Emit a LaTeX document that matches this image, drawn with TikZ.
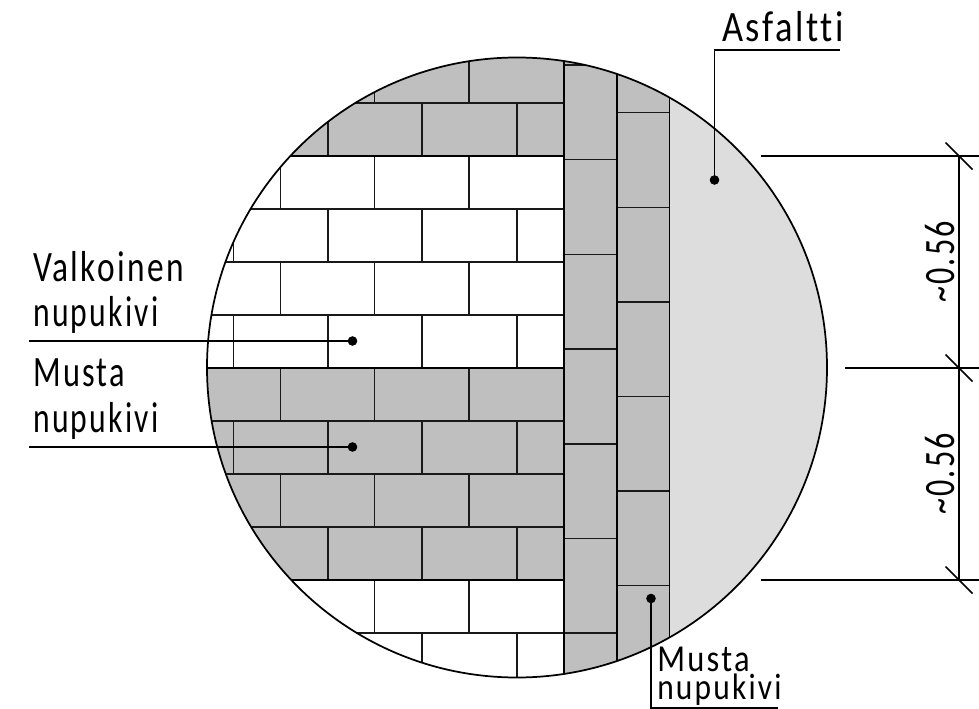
\documentclass[tikz,border=0pt]{standalone}
\usepackage{fontspec}
\usepackage{graphicx}
\setmainfont{Carlito}
\newfontface\lblfont[LetterSpace=7,Ligatures=NoCommon]{Carlito}
\newcommand{\lbltxt}[3]{\scalebox{#1}[#2]{\fontsize{32.5pt}{36pt}\lblfont #3}}
\definecolor{stonegrey}{HTML}{BFBFBF}
\definecolor{asphalt}{HTML}{DDDDDD}
\tikzset{
  x=0.75pt,y=-0.75pt,
  joint/.style={line width=1.05pt,black!90},
  edge/.style={line width=1.3pt,black},
  leader/.style={line width=1.2pt,black},
  dim/.style={line width=1.2pt,black},
  lbl/.style={anchor=base west,inner sep=0pt,black},
  dimlbl/.style={anchor=base,inner sep=0pt,rotate=90,black},
  leaderdot/.style={circle,fill=black,inner sep=0pt,minimum size=7.2pt}
}
\begin{document}
\begin{tikzpicture}
\useasboundingbox (0,0) rectangle (979,709);
\coordinate (c) at (517,367.5);
\begin{scope}
  \clip (c) circle [radius=310];
  % surfaces
  \fill[white] (200,50) rectangle (564,690);
  \fill[stonegrey] (200,50) rectangle (564,156);
  \fill[stonegrey] (200,368) rectangle (564,580);
  \fill[stonegrey] (564,50) rectangle (669.5,690);
  \fill[asphalt] (669.5,50) rectangle (830,690);
  % courses of stones
  \foreach \yy in {103,156,209,262,315,368,421,474,527,580,633}
    \draw[joint] (200,\yy) -- (564,\yy);
  \foreach \yy/\yb in {50/103,156/209,262/315,368/421,474/527,580/633}
    \foreach \xx in {280.5,374.5,469}
      \draw[joint] (\xx,\yy) -- (\xx,\yb);
  \foreach \yy/\yb in {103/156,209/262,315/368,421/474,527/580,633/690}
    \foreach \xx in {328,422,517}
      \draw[joint] (\xx,\yy) -- (\xx,\yb);
  \foreach \yy/\yb in {209/262,315/368,421/474}
    \draw[joint] (233.5,\yy) -- (233.5,\yb);
  % course boundaries of the colour bands
  \foreach \yy in {156,368,580}
    \draw[edge] (200,\yy) -- (564,\yy);
  % edge courses
  \foreach \yy in {65,159.5,254.5,349,444,538.5,633}
    \draw[joint] (564,\yy) -- (617,\yy);
  \foreach \yy in {112.7,207.3,302,396.5,491,585.7}
    \draw[joint] (617,\yy) -- (669.5,\yy);
  \foreach \xx in {564,617,669.5}
    \draw[edge] (\xx,50) -- (\xx,690);
\end{scope}
\draw[edge] (c) circle [radius=310];
% leaders
\node[leaderdot] (dotAsf) at (714.5,180) {};
\coordinate (kneeAsf) at (714.5,50);
\coordinate (endAsf) at (840,50);
\draw[leader] (dotAsf.center) -- (kneeAsf) -- (endAsf);
\node[lbl] (tAsf) at (722,42) {\lbltxt{.84}{1}{Asfaltti}};

\node[leaderdot] (dotW) at (352.5,341) {};
\coordinate (endW) at (29,341);
\draw[leader] (dotW.center) -- (endW);
\node[lbl] (tW1) at (33,282) {\lbltxt{.77}{1}{Valkoinen}};
\node[lbl] (tW2) at (33,327) {\lbltxt{.73}{1}{nupukivi}};

\node[leaderdot] (dotB) at (352.5,447) {};
\coordinate (endB) at (29,447);
\draw[leader] (dotB.center) -- (endB);
\node[lbl] (tB1) at (33,387) {\lbltxt{.745}{1}{Musta}};
\node[lbl] (tB2) at (33,432) {\lbltxt{.73}{1}{nupukivi}};

\node[leaderdot] (dotE) at (651,598.5) {};
\coordinate (kneeE) at (651,708);
\coordinate (endE) at (778,708);
\draw[leader] (dotE.center) -- (kneeE) -- (endE);
\node[lbl] (tE1) at (657,671.5) {\lbltxt{.75}{.88}{Musta}};
\node[lbl] (tE2) at (657,699) {\lbltxt{.725}{.85}{nupukivi}};

% dimensions
\coordinate (d1) at (959,156);
\coordinate (d2) at (959,368);
\coordinate (d3) at (959,580);
\coordinate (e1) at (761,156);
\coordinate (e2) at (845,368);
\coordinate (e3) at (761,580);
\coordinate (f1) at (979,156);
\coordinate (f2) at (979,368);
\coordinate (f3) at (979,580);
\draw[dim] (e1) -- (f1);
\draw[dim] (e2) -- (f2);
\draw[dim] (e3) -- (f3);
\draw[dim] (d1) -- (d3);
\foreach \p in {d1,d2,d3}
  \draw[dim] ([shift={(-13.5,-13.5)}]\p) -- ([shift={(13.5,13.5)}]\p);
\node[dimlbl] (t1) at (954,262) {\lbltxt{.74}{1}{\textasciitilde0.56}};
\node[dimlbl] (t2) at (954,474) {\lbltxt{.74}{1}{\textasciitilde0.56}};
\end{tikzpicture}
\end{document}
